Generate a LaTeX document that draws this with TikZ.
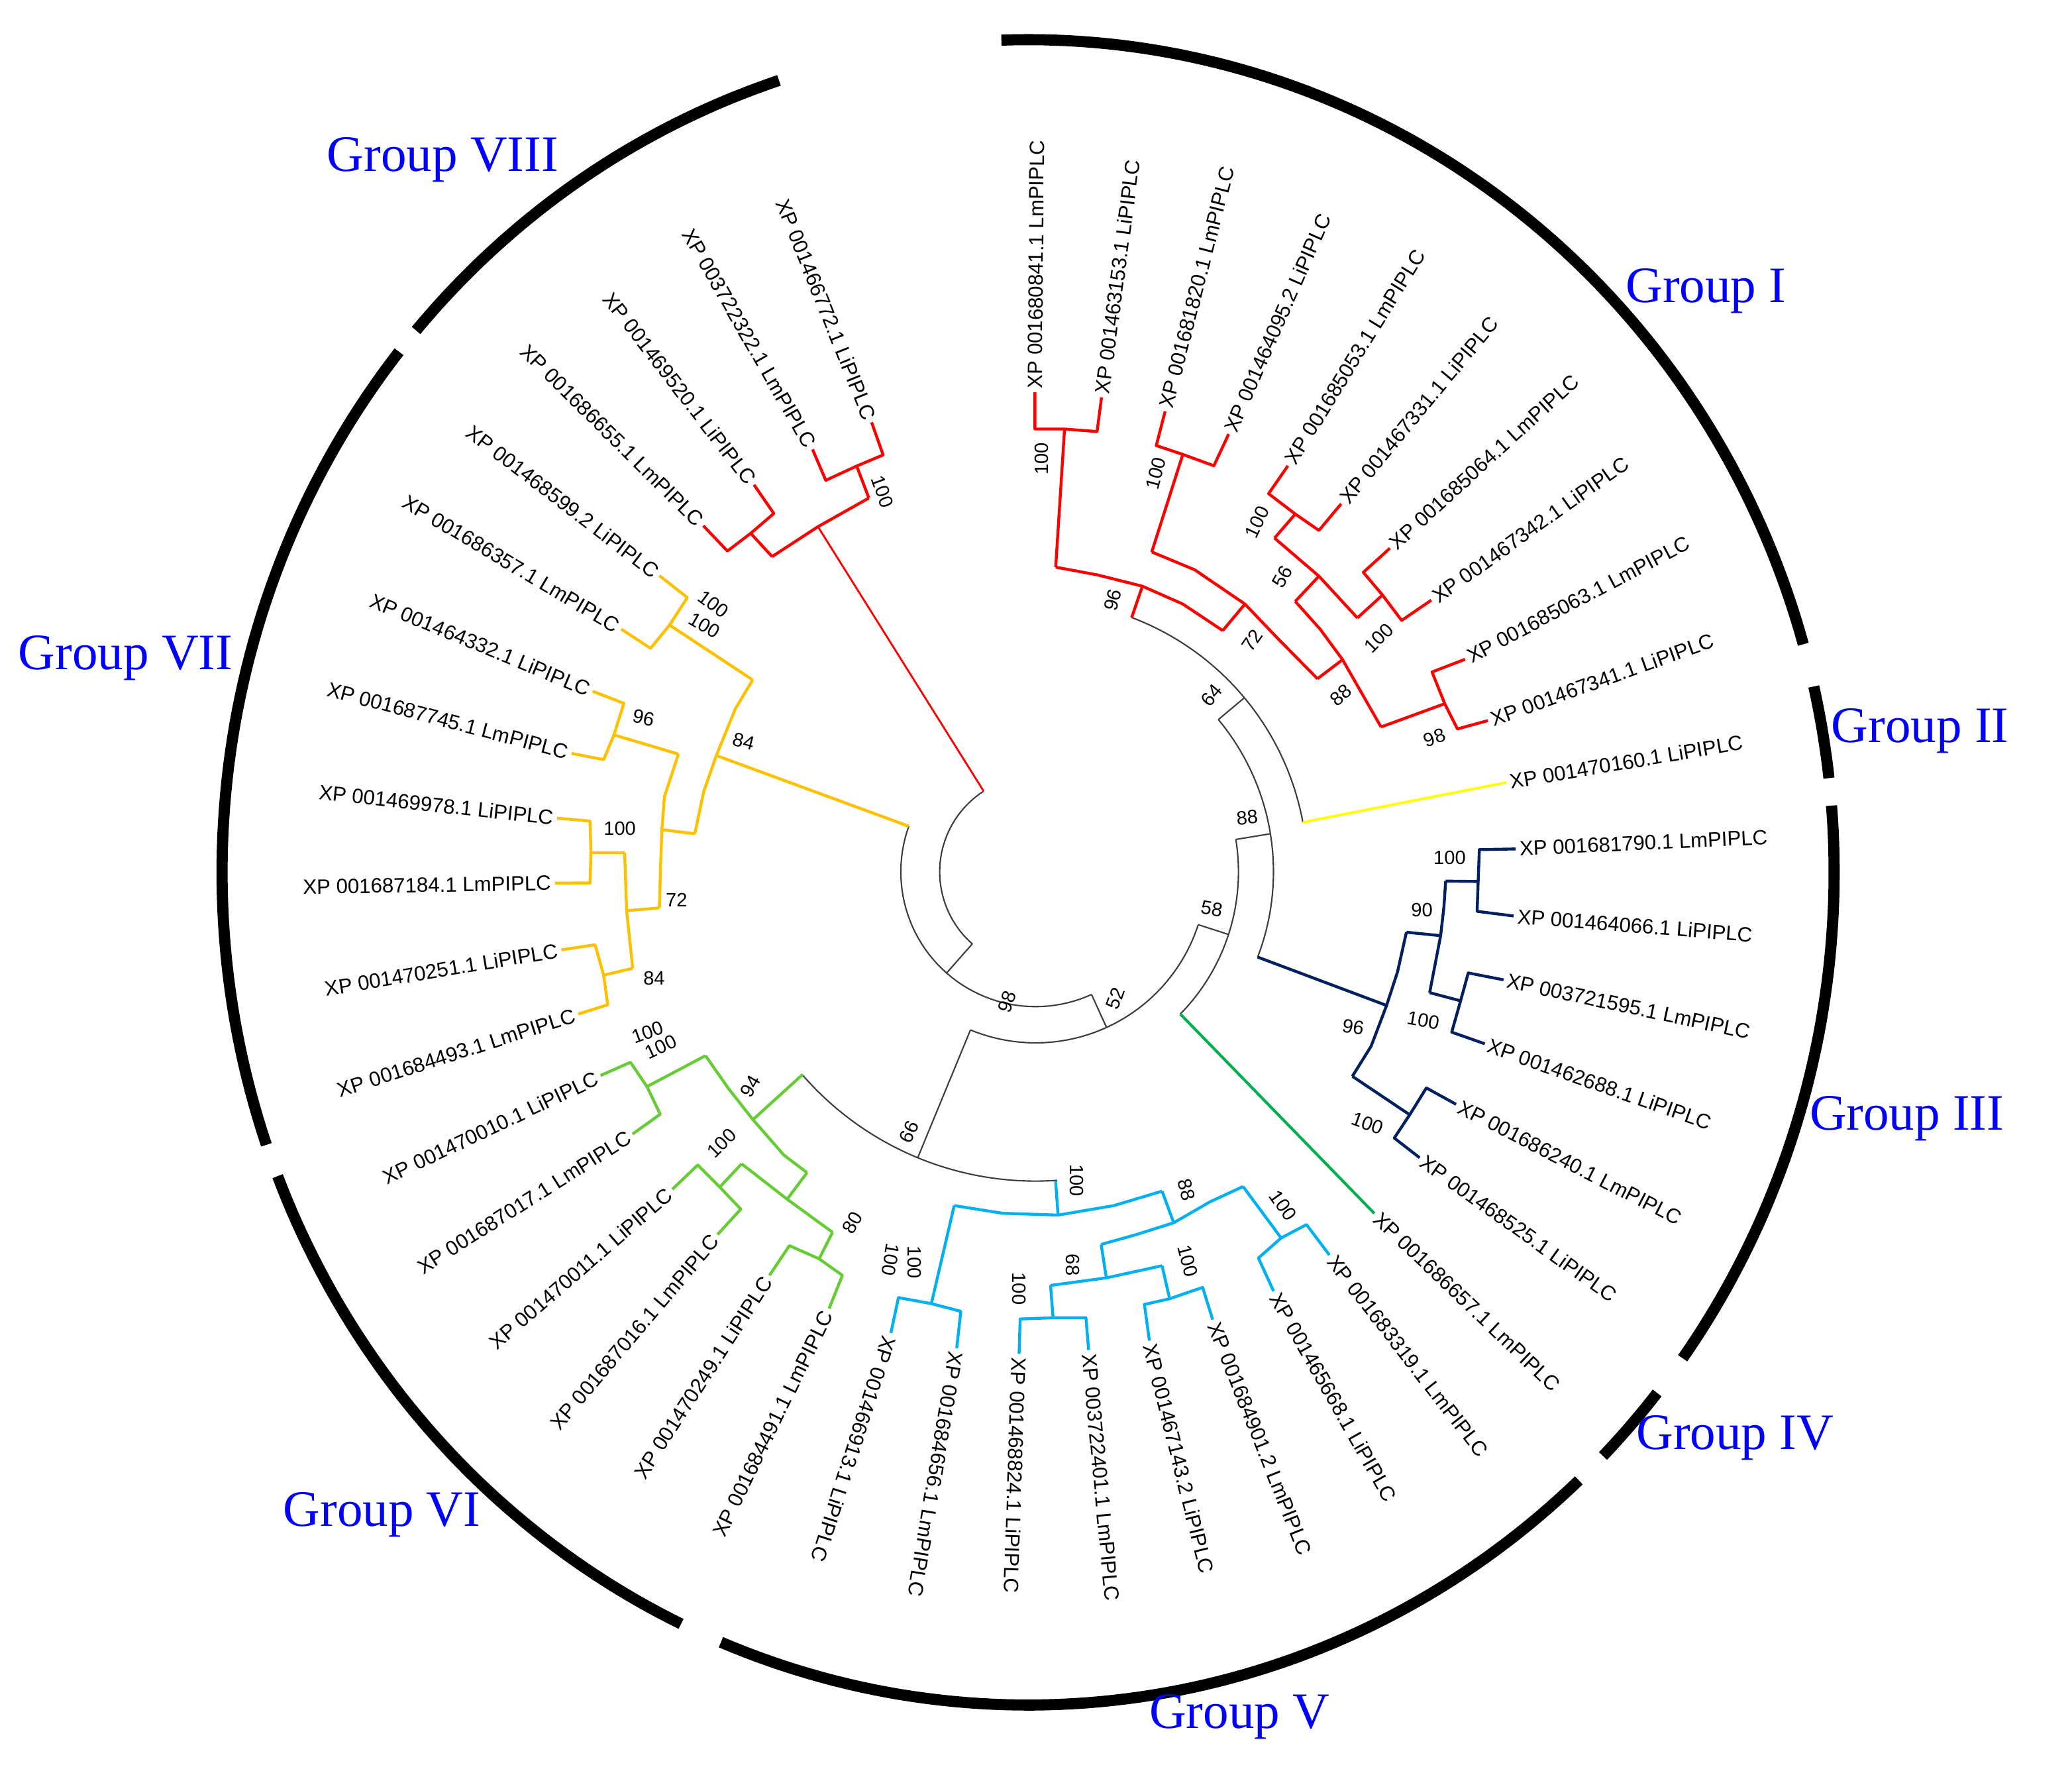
\documentclass[tikz,border=0pt]{standalone}
\usepackage{fontspec}
\setmainfont{Liberation Sans}
\newfontfamily\grpfont{Liberation Serif}
\definecolor{cRed}{RGB}{255,0,0}
\definecolor{cOrange}{RGB}{255,192,0}
\definecolor{cYellow}{RGB}{255,255,0}
\definecolor{cNavy}{RGB}{0,32,96}
\definecolor{cGreenD}{RGB}{0,176,80}
\definecolor{cLime}{RGB}{102,204,51}
\definecolor{cCyan}{RGB}{0,176,240}
\definecolor{cDark}{RGB}{60,60,60}
\definecolor{cBlue}{RGB}{0,0,255}
\begin{document}
\begin{tikzpicture}[x=0.02cm,y=-0.02cm,
  ring/.style={draw=black,line width=4.8pt},
  blk/.style={draw=cDark,line width=0.6pt},
  rbr/.style={draw=cRed,line width=1.25pt,line join=round},
  obr/.style={draw=cOrange,line width=1.25pt,line join=round},
  ybr/.style={draw=cYellow,line width=1.1pt},
  nbr/.style={draw=cNavy,line width=1.25pt,line join=round},
  dgbr/.style={draw=cGreenD,line width=1.2pt},
  gbr/.style={draw=cLime,line width=1.25pt,line join=round},
  cbr/.style={draw=cCyan,line width=1.25pt,line join=round},
  tipl/.style={font=\fontsize{8.9}{10}\selectfont,inner sep=1.5pt},
  tipR/.style={tipl,anchor=west},
  tipL/.style={tipl,anchor=east},
  bs/.style={font=\fontsize{8.3}{9}\selectfont,inner sep=0pt},
  grp/.style={font=\grpfont\fontsize{22}{24}\selectfont,text=cBlue,inner sep=0pt}]
\useasboundingbox[fill=white] (0,0) rectangle (1568,1344);

% ---------- outer ring ----------
\draw[ring] plot[domain=15.9:91.9,samples=80] ({778+610*cos(\x)},{660-630*sin(\x)});
\draw[ring] plot[domain=6.5:12.9,samples=10] ({778+610*cos(\x)},{660-630*sin(\x)});
\draw[ring] plot[domain=-35.7:4.6,samples=50] ({778+610*cos(\x)},{660-630*sin(\x)});
\draw[ring] plot[domain=-44.5:-38.7,samples=10] ({778+610*cos(\x)},{660-630*sin(\x)});
\draw[ring] plot[domain=-112.4:-46.9,samples=70] ({778+610*cos(\x)},{660-630*sin(\x)});
\draw[ring] plot[domain=-158.6:-115.5,samples=50] ({778+610*cos(\x)},{660-630*sin(\x)});
\draw[ring] plot[domain=141.3:199.1,samples=60] ({778+610*cos(\x)},{660-630*sin(\x)});
\draw[ring] plot[domain=108:139.4,samples=40] ({778+610*cos(\x)},{660-630*sin(\x)});

\node[grp] (gI) at (1291,220) {Group I};
\node[grp] (gII) at (1453,553) {Group II};
\node[grp] (gIII) at (1443,846) {Group III};
\node[grp] (gIV) at (1313,1088) {Group IV};
\node[grp] (gV) at (938,1299) {Group V};
\node[grp] (gVI) at (289,1146) {Group VI};
\node[grp] (gVII) at (95,498) {Group VII};
\node[grp] (gVIII) at (335,121) {Group VIII};

% ---------- inner backbone ----------
\draw[blk] plot[domain=122.8:228.9,samples=40] ({783.7+72.6*cos(\x)},{659.6-72.6*sin(\x)});
\draw[blk] (735.8,714.1) -- (716.3,736.2);
\draw[blk] plot[domain=160.2:294.5,samples=50] ({783.7+102*cos(\x)},{659.6-102*sin(\x)});
\draw[blk] (826.0,752.4) -- (837.4,777.4);
\draw[blk] plot[domain=247.6:342,samples=50] ({783.7+129.4*cos(\x)},{659.6-129.4*sin(\x)});
\draw[blk] (734.4,779.2) -- (694.5,875.9);
\draw[blk] plot[domain=221:274,samples=40] ({783.7+234*cos(\x)},{659.6-234*sin(\x)});
\draw[blk] (906.8,699.6) -- (929.7,707.0);
\draw[blk] plot[domain=315.5:369.2,samples=40] ({783.7+153.5*cos(\x)},{659.6-153.5*sin(\x)});
\draw[blk] (935.2,635.1) -- (961.4,630.8);
\draw[blk] plot[domain=339:399.8,samples=40] ({783.7+180*cos(\x)},{659.6-180*sin(\x)});
\draw[blk] (922,544.4) -- (941.7,527.9);
\draw[blk] plot[domain=10.5:69.3,samples=40] ({783.7+205.7*cos(\x)},{659.6-205.7*sin(\x)});

\node[bs,rotate=5] (n88) at (943.8,618.4) {88};
\node[bs,rotate=-10] (n58) at (917,687.5) {58};
\node[bs,rotate=70] (n52) at (844,755.3) {52};
\node[bs,rotate=70] (n98) at (762.2,757.8) {98};
\node[bs,rotate=65] (n66) at (688,856.3) {66};
\node[bs,rotate=50] (n64) at (916.8,526) {64};

% ---------- Group I (red) ----------
\draw[rbr] (856.4,467.2) -- (864.5,443.5);
\draw[rbr] (798.9,429.1) -- (830.2,434.9) -- (864.5,443.5) -- (895.1,457) -- (925.3,477.1);
\draw[rbr] (798.9,429.1) -- (805.6,324.6);
\draw[rbr] (783.2,296.8) coordinate (p1) -- (783.2,324.6) -- (805.6,324.6) -- (830.2,326.5) -- (833.6,300.6) coordinate (p2);
\draw[rbr] (925.3,477.1) -- (942.1,457);
\draw[rbr] (871.6,417.6) -- (904.1,431.1) -- (942.1,457) -- (966.7,482.8) -- (997,513.5);
\draw[rbr] (871.6,417.6) -- (895.1,343.8);
\draw[rbr] (881.7,311.2) coordinate (p3) -- (875,337.1) -- (895.1,343.8) -- (918.6,352.4) -- (929.8,328.4) coordinate (p4);
\draw[rbr] (997,513.5) -- (1016,499.1);
\draw[rbr] (980.2,455) -- (999,476) -- (1016,499.1) -- (1045.1,550);
\draw[rbr] (980.2,455) -- (998.1,435.9);
\draw[rbr] (964.5,407.1) -- (998.1,435.9) -- (1027.2,467.5);
\draw[rbr] (964.5,407.1) -- (980.2,388.9);
\draw[rbr] (974.6,352.4) coordinate (p5) -- (960,373.5) -- (980.2,388.9) -- (998.1,401.3) -- (1014.9,381.2) coordinate (p6);
\draw[rbr] (1027.2,467.5) -- (1046.2,450.2);
\draw[rbr] (1051.8,414.8) coordinate (p7) -- (1031.7,433) -- (1046.2,450.2) -- (1060.7,469.4) -- (1083.1,454.1) coordinate (p8);
\draw[rbr] (1045.1,550) -- (1093.3,532.4);
\draw[rbr] (1108.7,498.8) coordinate (p9) -- (1083.7,508.4) -- (1093.3,532.4) -- (1102.9,551.5) -- (1125.9,545.2) coordinate (p10);

\node[tipR,rotate=89.5] (t1) at (p1) {XP 001680841.1 LmPIPLC};
\node[tipR,rotate=82.5] (t2) at (p2) {XP 001463153.1 LiPIPLC};
\node[tipR,rotate=75.6] (t3) at (p3) {XP 001681820.1 LmPIPLC};
\node[tipR,rotate=66.3] (t4) at (p4) {XP 001464095.2 LiPIPLC};
\node[tipR,rotate=58.3] (t5) at (p5) {XP 001685053.1 LmPIPLC};
\node[tipR,rotate=50.3] (t6) at (p6) {XP 001467331.1 LiPIPLC};
\node[tipR,rotate=42.4] (t7) at (p7) {XP 001685064.1 LmPIPLC};
\node[tipR,rotate=35.5] (t8) at (p8) {XP 001467342.1 LiPIPLC};
\node[tipR,rotate=27.8] (t9) at (p9) {XP 001685063.1 LmPIPLC};
\node[tipR,rotate=19.7] (t10) at (p10) {XP 001467341.1 LiPIPLC};

\node[bs,rotate=90] (bI1) at (788.3,347) {100};
\node[bs,rotate=75] (bI2) at (874.7,358.1) {100};
\node[bs,rotate=65] (bI3) at (951.4,394.9) {100};
\node[bs,rotate=60] (bI4) at (970.5,436.5) {56};
\node[bs,rotate=45] (bI5) at (1043.4,482.8) {100};
\node[bs,rotate=40] (bI6) at (1014.7,526) {88};
\node[bs,rotate=20] (bI7) at (1085.6,558) {98};
\node[bs,rotate=75] (bI8) at (842,454) {96};
\node[bs,rotate=55] (bI9) at (947.5,484.4) {72};

% ---------- Group II (yellow) ----------
\draw[ybr] (986,622.1) -- (1140,592) coordinate (p11);
\node[tipR,rotate=9.7] (t11) at (p11) {XP 001470160.1 LiPIPLC};

% ---------- Group III (navy) ----------
\draw[nbr] (951.7,724.1) -- (1049.3,760.7);
\draw[nbr] (1064.3,705.3) -- (1057.6,735.2) -- (1049.3,760.7) -- (1037.6,791.5) -- (1023.4,814.3);
\draw[nbr] (1064.3,705.3) -- (1090.2,707.9);
\draw[nbr] (1094,666.6) -- (1092.7,686) -- (1090.2,707.9) -- (1081.9,751);
\draw[nbr] (1094,666.6) -- (1118.6,666.9);
\draw[nbr] (1147,642.3) coordinate (p12) -- (1119.5,642.8) -- (1118.6,666.9) -- (1117.8,689.5) -- (1145.4,693) coordinate (p13);
\draw[nbr] (1081.9,751) -- (1105.3,757.2);
\draw[nbr] (1137.8,741.3) coordinate (p14) -- (1111.1,736.1) -- (1105.3,757.2) -- (1098.6,780.9) -- (1123.6,789.7) coordinate (p15);
\draw[nbr] (1023.4,814.3) -- (1066.8,843.4);
\draw[nbr] (1101.9,835.5) coordinate (p16) -- (1079.4,823.1) -- (1066.8,843.4) -- (1055.1,861) -- (1074.3,875.9) coordinate (p17);

\node[tipR,rotate=2.7] (t12) at (p12) {XP 001681790.1 LmPIPLC};
\node[tipR,rotate=-4.5] (t13) at (p13) {XP 001464066.1 LiPIPLC};
\node[tipR,rotate=-12] (t14) at (p14) {XP 003721595.1 LmPIPLC};
\node[tipR,rotate=-19.4] (t15) at (p15) {XP 001462688.1 LiPIPLC};
\node[tipR,rotate=-27.2] (t16) at (p16) {XP 001686240.1 LmPIPLC};
\node[tipR,rotate=-35.6] (t17) at (p17) {XP 001468525.1 LiPIPLC};

\node[bs] (bIII1) at (1097,649) {100};
\node[bs] (bIII2) at (1076,688.6) {90};
\node[bs,rotate=-10] (bIII3) at (1077,772) {100};
\node[bs,rotate=-10] (bIII4) at (1024,777) {96};
\node[bs,rotate=-20] (bIII5) at (1035,850) {100};

% ---------- Group IV (green) ----------
\draw[dgbr] (893.2,767.2) -- (1040,918) coordinate (p18);
\node[tipR,rotate=-43.7] (t18) at (p18) {XP 001686657.1 LmPIPLC};

% ---------- Group V (cyan) ----------
\draw[cbr] (798.8,893.4) -- (800.7,919.3);
\draw[cbr] (722.1,912.1) -- (758.5,917.9) -- (800.7,919.3) -- (843,912.1) -- (879.4,901.2);
\draw[cbr] (722.1,912.1) -- (704.8,986.3);
\draw[cbr] (674.2,1008.5) coordinate (p26) -- (679.9,981.7) -- (704.8,986.3) -- (727.1,992.1) -- (724,1020) coordinate (p25);
\draw[cbr] (879.4,901.2) -- (888.2,925.1);
\draw[cbr] (833.3,941.5) -- (860,934) -- (888.2,925.1) -- (915.8,909.2) -- (940.7,897.7);
\draw[cbr] (833.3,941.5) -- (837.2,966.8);
\draw[cbr] (795,972.5) -- (837.2,966.8) -- (879.4,957.6);
\draw[cbr] (795,972.5) -- (796.9,997);
\draw[cbr] (771.2,1024.3) coordinate (p24) -- (772,997.9) -- (796.9,997) -- (821.8,997) -- (823.8,1021.4) coordinate (p23);
\draw[cbr] (879.4,957.6) -- (885.1,982.6);
\draw[cbr] (869.8,1014.3) coordinate (p22) -- (866,986.9) -- (885.1,982.6) -- (910.1,974) -- (917.7,998.4) coordinate (p21);
\draw[cbr] (940.7,897.7) -- (969.5,936.6);
\draw[cbr] (963.8,976.9) coordinate (p20) -- (952.3,951.8) -- (969.5,936.6) -- (988.7,926.5) -- (1006,949.5) coordinate (p19);

\node[tipR,rotate=-52.2] (t19) at (p19) {XP 001683319.1 LmPIPLC};
\node[tipR,rotate=-60.5] (t20) at (p20) {XP 001465668.1 LiPIPLC};
\node[tipR,rotate=-68.4] (t21) at (p21) {XP 001684901.2 LmPIPLC};
\node[tipR,rotate=-76] (t22) at (p22) {XP 001467143.2 LiPIPLC};
\node[tipR,rotate=-84.6] (t23) at (p23) {XP 003722401.1 LmPIPLC};
\node[tipR,rotate=-91.9] (t24) at (p24) {XP 001468824.1 LiPIPLC};
\node[tipR,rotate=-99.6] (t25) at (p25) {XP 001684656.1 LmPIPLC};
\node[tipR,rotate=-107.8] (t26) at (p26) {XP 001466913.1 LiPIPLC};

\node[bs,rotate=-90] (bV1) at (815,893) {100};
\node[bs,rotate=-75] (bV2) at (898,900) {88};
\node[bs,rotate=-55] (bV3) at (971,912) {100};
\node[bs,rotate=-100] (bV4) at (674,953) {100};
\node[bs,rotate=-90] (bV5) at (692,955) {100};
\node[bs,rotate=-90] (bV6) at (812,957) {68};
\node[bs,rotate=-90] (bV7) at (771,975) {100};
\node[bs,rotate=-75] (bV8) at (899,954) {100};

% ---------- Group VI (lime) ----------
\draw[gbr] (607.4,812.9) -- (569.8,847.1);
\draw[gbr] (533.9,798.7) -- (551.4,823.7) -- (569.8,847.1) -- (593.2,873.9) -- (610.7,887.2);
\draw[gbr] (533.9,798.7) -- (489.6,822.1);
\draw[gbr] (454.5,813.7) coordinate (p32) -- (477.1,803.7) -- (489.6,822.1) -- (499.6,843) -- (478.7,858) coordinate (p31);
\draw[gbr] (610.7,887.2) -- (595.7,907.3);
\draw[gbr] (561.2,880.5) -- (595.7,907.3) -- (630,932.3);
\draw[gbr] (561.2,880.5) -- (544.7,898.1);
\draw[gbr] (508.8,899.8) coordinate (p30) -- (528,881.4) -- (544.7,898.1) -- (560.6,914.8) -- (543,934) coordinate (p29);
\draw[gbr] (630,932.3) -- (619.9,952.4);
\draw[gbr] (582.3,964.9) coordinate (p28) -- (597.4,942.4) -- (619.9,952.4) -- (637.5,964.9) -- (627.4,990) coordinate (p27);

\node[tipL,rotate=64] (t27) at (p27) {XP 001684491.1 LmPIPLC};
\node[tipL,rotate=57] (t28) at (p28) {XP 001470249.1 LiPIPLC};
\node[tipL,rotate=49.7] (t29) at (p29) {XP 001687016.1 LmPIPLC};
\node[tipL,rotate=40.9] (t30) at (p30) {XP 001470011.1 LiPIPLC};
\node[tipL,rotate=32.3] (t31) at (p31) {XP 001687017.1 LmPIPLC};
\node[tipL,rotate=25.4] (t32) at (p32) {XP 001470010.1 LiPIPLC};

\node[bs,rotate=20] (bVI1) at (490,781) {100};
\node[bs,rotate=25] (bVI2) at (500,792) {100};
\node[bs,rotate=60] (bVI3) at (568,822) {94};
\node[bs,rotate=45] (bVI4) at (546,865) {100};
\node[bs,rotate=60] (bVI5) at (645,925) {80};

% ---------- Group VII (orange) ----------
\draw[obr] (687.7,625.1) -- (542.1,571.6);
\draw[obr] (569.6,514.4) -- (556.5,536.2) -- (542.1,571.6) -- (532.6,598.6) -- (525.8,630.8);
\draw[obr] (569.6,514.4) -- (506.7,472.9);
\draw[obr] (499,435.5) coordinate (p40) -- (520.1,452.1) -- (506.7,472.9) -- (492.3,490.5) -- (470.2,476) coordinate (p39);
\draw[obr] (525.8,630.8) -- (500.9,627.7);
\draw[obr] (513.4,570.5) -- (502.8,602.7) -- (500.9,627.7) -- (499.9,654.7) -- (499,686.9);
\draw[obr] (513.4,570.5) -- (464.6,556);
\draw[obr] (448.5,523) coordinate (p38) -- (472.1,532.1) -- (464.6,556) -- (456.8,574.7) -- (432.5,570) coordinate (p37);
\draw[obr] (499,686.9) -- (474.2,689);
\draw[obr] (472.7,645.1) -- (474.2,689) -- (478.8,732.6);
\draw[obr] (472.7,645.1) -- (447.2,645.1);
\draw[obr] (421.6,619) coordinate (p36) -- (446.5,621.2) -- (447.2,645.1) -- (446.5,668) -- (420,668.1) coordinate (p35);
\draw[obr] (478.8,732.6) -- (456.8,737.8);
\draw[obr] (424.8,718.6) coordinate (p34) -- (450.3,714.8) -- (456.8,737.8) -- (459.9,760.2) -- (437.6,767.2) coordinate (p33);

\node[tipL,rotate=17.7] (t33) at (p33) {XP 001684493.1 LmPIPLC};
\node[tipL,rotate=9.4] (t34) at (p34) {XP 001470251.1 LiPIPLC};
\node[tipL,rotate=0.9] (t35) at (p35) {XP 001687184.1 LmPIPLC};
\node[tipL,rotate=-6.3] (t36) at (p36) {XP 001469978.1 LiPIPLC};
\node[tipL,rotate=-14.8] (t37) at (p37) {XP 001687745.1 LmPIPLC};
\node[tipL,rotate=-22.5] (t38) at (p38) {XP 001464332.1 LiPIPLC};
\node[tipL,rotate=-30.7] (t39) at (p39) {XP 001686357.1 LmPIPLC};
\node[tipL,rotate=-37.5] (t40) at (p40) {XP 001468599.2 LiPIPLC};

\node[bs,rotate=-37] (bVII1) at (540,457) {100};
\node[bs,rotate=-30] (bVII2) at (533,473) {100};
\node[bs,rotate=-15] (bVII3) at (563,561) {84};
\node[bs,rotate=-12] (bVII4) at (487,543) {96};
\node[bs] (bVII5) at (469,627) {100};
\node[bs] (bVII6) at (512,681) {72};
\node[bs] (bVII7) at (495,740) {84};

% ---------- Group VIII (red) ----------
\draw[rbr,line width=0.8pt] (744.4,598.6) -- (619.0,398.5);
\draw[rbr] (584.3,421.1) -- (619.0,398.5) -- (657.5,376.8);
\draw[rbr] (657.5,376.8) -- (648.3,352.6);
\draw[rbr] (614.9,340) coordinate (p43) -- (624.9,363.4) -- (648.3,352.6) -- (668.3,344.2) -- (659.6,319.5) coordinate (p44);
\draw[rbr] (584.3,421.1) -- (568.1,403.5);
\draw[rbr] (532.2,397.7) coordinate (p41) -- (550.5,416.9) -- (568.1,403.5) -- (585.6,388.5) -- (570.6,366.8) coordinate (p42);

\node[tipL,rotate=-44.7] (t41) at (p41) {XP 001686655.1 LmPIPLC};
\node[tipL,rotate=-52.4] (t42) at (p42) {XP 001469520.1 LiPIPLC};
\node[tipL,rotate=-60.3] (t43) at (p43) {XP 003722322.1 LmPIPLC};
\node[tipL,rotate=-68.1] (t44) at (p44) {XP 001466772.1 LiPIPLC};

\node[bs,rotate=-70] (bVIII1) at (668,372) {100};
\end{tikzpicture}
\end{document}
